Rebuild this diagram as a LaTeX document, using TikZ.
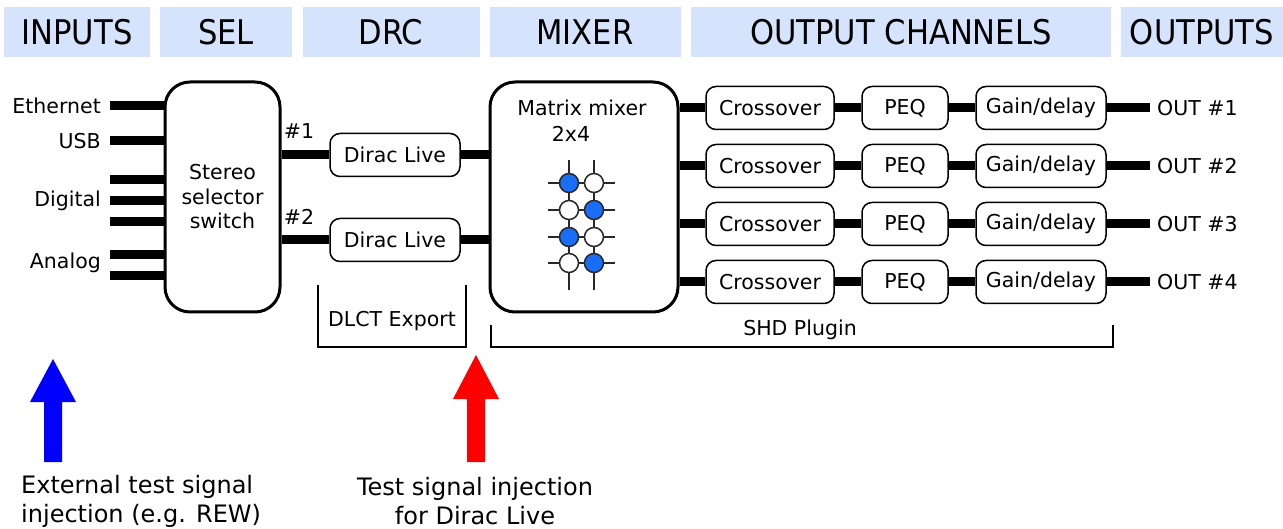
\documentclass[tikz,border=0pt]{standalone}
\usepackage{fontspec}
\setmainfont{DejaVu Sans}
\newfontfamily\hdrfont{DejaVu Sans}[FakeStretch=0.9]
\definecolor{hdrblue}{RGB}{213,228,252}
\definecolor{dotblue}{RGB}{26,110,245}
\definecolor{gridgray}{RGB}{40,40,40}
\begin{document}
\begin{tikzpicture}[x=1pt,y=-1pt,
  hdr/.style={fill=hdrblue, minimum height=50pt, inner sep=0pt, font=\hdrfont\fontsize{34}{38}\selectfont},
  bigbox/.style={draw, line width=3pt, rounded corners=25pt, align=center, inner sep=0pt, font=\fontsize{20.5}{24.5}\selectfont},
  smallbox/.style={draw, line width=1.5pt, rounded corners=10pt, minimum height=43pt, inner sep=0pt, font=\fontsize{20.5}{24}\selectfont},
  lbl/.style={inner sep=0pt, font=\fontsize{20.5}{24}\selectfont},
  wire/.style={line width=9pt},
  brk/.style={line width=1.2pt},
  gridline/.style={line width=2pt, gridgray},
  dotw/.style={circle, draw=gridgray, line width=1.5pt, fill=white, minimum size=19pt, inner sep=0pt},
  dotb/.style={dotw, fill=dotblue},
  bigtxt/.style={inner sep=0pt, font=\fontsize{24}{29}\selectfont}
]
\useasboundingbox (0,0) rectangle (1283,529);

% headers
\node[hdr, minimum width=146pt] (hIn) at (77,32) {INPUTS};
\node[hdr, minimum width=132pt] (hSel) at (226,32) {SEL};
\node[hdr, minimum width=177pt] (hDrc) at (391,32) {DRC};
\node[hdr, minimum width=191pt] (hMix) at (585,32) {MIXER};
\node[hdr, minimum width=420pt] (hOch) at (901,32) {OUTPUT CHANNELS};
\node[hdr, minimum width=162pt] (hOut) at (1202,32) {OUTPUTS};

% selector and mixer
\node[bigbox, minimum width=115pt, minimum height=230pt] (sel) at (222.5,197) {Stereo\\selector\\switch};
\node[bigbox, minimum width=188pt, minimum height=230pt] (mix) at (584,197) {};
\node[lbl] (mixlbl) at (582,108) {Matrix mixer};
\node[lbl] (mixdim) at (571,134) {2x4};

% input labels and stubs
\node[lbl, anchor=east, inner xsep=9pt] (lEth) at (110,106) {Ethernet};
\node[lbl, anchor=east, inner xsep=9pt] (lUsb) at (110,141) {USB};
\node[lbl, anchor=east, inner xsep=9pt] (lDig) at (110,201) {Digital};
\node[lbl, anchor=east, inner xsep=9pt] (lAna) at (110,263) {Analog};
\coordinate (inD1) at (110,180);
\coordinate (inD3) at (110,222);
\coordinate (inA1) at (110,255);
\coordinate (inA2) at (110,276);
\draw[wire] (lEth.east) -- (lEth.east -| sel.west);
\draw[wire] (lUsb.east) -- (lUsb.east -| sel.west);
\draw[wire] (inD1) -- (inD1 -| sel.west);
\draw[wire] (lDig.east) -- (lDig.east -| sel.west);
\draw[wire] (inD3) -- (inD3 -| sel.west);
\draw[wire] (inA1) -- (inA1 -| sel.west);
\draw[wire] (inA2) -- (inA2 -| sel.west);

% DRC
\node[smallbox, minimum width=130pt] (d1) at (395,155) {Dirac Live};
\node[smallbox, minimum width=130pt] (d2) at (395,240) {Dirac Live};
\node[lbl] (n1) at (299,131) {\#1};
\node[lbl] (n2) at (299,217) {\#2};
\draw[wire] (d1.west) -- (d1.west -| sel.east);
\draw[wire] (d2.west) -- (d2.west -| sel.east);
\draw[wire] (d1.east) -- (d1.east -| mix.west);
\draw[wire] (d2.east) -- (d2.east -| mix.west);

% matrix
\foreach \x in {569,594} \draw[gridline] (\x,160) -- (\x,290);
\foreach \y in {183,210,237,263} \draw[gridline] (548,\y) -- (615,\y);
\node[dotb] (m11) at (569,183) {};
\node[dotw] (m12) at (594,183) {};
\node[dotw] (m21) at (569,210) {};
\node[dotb] (m22) at (594,210) {};
\node[dotb] (m31) at (569,237) {};
\node[dotw] (m32) at (594,237) {};
\node[dotw] (m41) at (569,263) {};
\node[dotb] (m42) at (594,263) {};

% output channels
\foreach \i/\y in {1/108,2/166,3/224,4/282}{
  \node[smallbox, minimum width=128pt] (cx\i) at (770,\y) {Crossover};
  \node[smallbox, minimum width=86pt] (pq\i) at (905,\y) {PEQ};
  \node[smallbox, minimum width=130pt] (gd\i) at (1041,\y) {Gain/delay};
  \node[lbl, anchor=west, inner xsep=7pt] (out\i) at (1150,\y) {OUT \#\i};
  \draw[wire] (cx\i.west) -- (cx\i.west -| mix.east);
  \draw[wire] (cx\i.east) -- (pq\i.west);
  \draw[wire] (pq\i.east) -- (gd\i.west);
  \draw[wire] (gd\i.east) -- (out\i.west);
}

% brackets
\draw[brk] (318,285) -- (318,347) -- (466,347) -- (466,285);
\node[lbl] (dlct) at (392,321) {DLCT Export};
\draw[brk] (491,325) -- (491,347) -- (1113,347) -- (1113,325);
\node[lbl] (shd) at (800,330) {SHD Plugin};

% arrows
\fill[blue] (44,462) -- (44,402) -- (30,402) -- (53,359) -- (76,402) -- (62,402) -- (62,462) -- cycle;
\fill[red] (467,462) -- (467,399) -- (453,399) -- (476,355) -- (499,399) -- (485,399) -- (485,462) -- cycle;

\node[bigtxt, anchor=west, align=left] (ext) at (21,501) {External test signal\\injection (e.g. REW)};
\node[bigtxt, align=center] (inj) at (475,501) {Test signal injection\\for Dirac Live};
\end{tikzpicture}
\end{document}
